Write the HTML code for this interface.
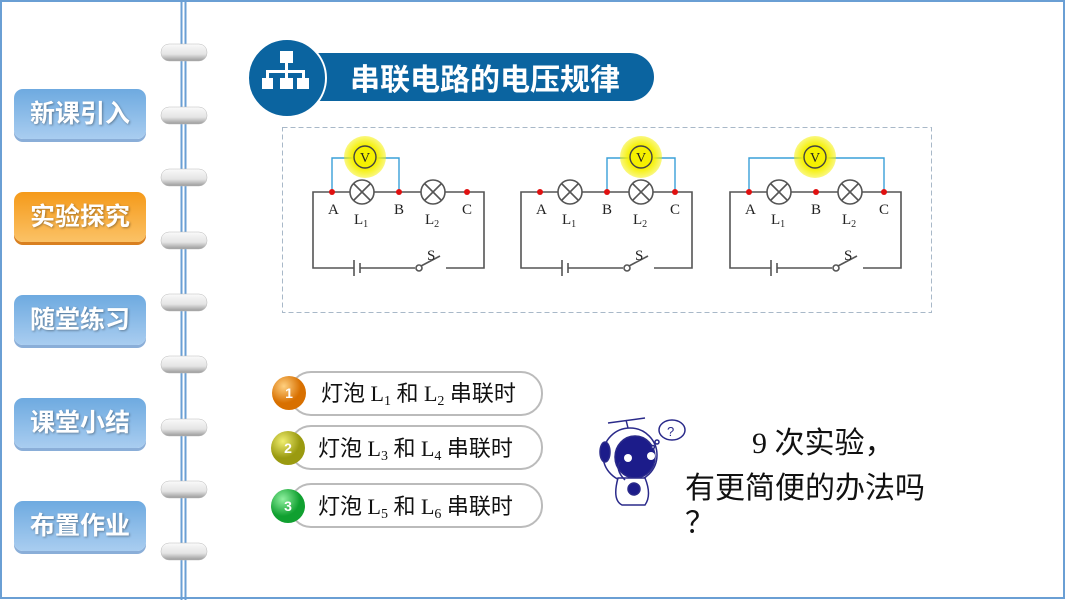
<!DOCTYPE html>
<html><head><meta charset="utf-8">
<style>
body{margin:0;width:1066px;height:600px;overflow:hidden;background:#fff;font-family:"Liberation Sans","Noto Sans CJK SC",sans-serif;}
.nav{position:absolute;left:14px;width:132px;height:50px;border-radius:9px;color:#fff;font-size:25px;font-weight:bold;line-height:50px;text-align:center;text-shadow:1px 1px 2px rgba(0,0,0,.35);box-shadow:0 3px 0 rgba(60,120,190,.6);}
.b{background:linear-gradient(#6eaae0,#a9cdf0);}
.o{background:linear-gradient(#f59a1a,#fbc266);box-shadow:0 3px 0 #d98020;}
</style></head><body>
<svg width="1066" height="600" style="position:absolute;left:0;top:0" font-family="Liberation Serif,serif">
<defs>
<linearGradient id="ring" x1="0" y1="0" x2="0" y2="1"><stop offset="0" stop-color="#fafafa"/><stop offset="0.6" stop-color="#e4e4e4"/><stop offset="1" stop-color="#9a9a9a"/></linearGradient>
<radialGradient id="glow"><stop offset="0.55" stop-color="#f5f000"/><stop offset="1" stop-color="#f5f000" stop-opacity="0.5"/></radialGradient>
<radialGradient id="g1" cx="0.35" cy="0.3"><stop offset="0" stop-color="#ffd080"/><stop offset="1" stop-color="#d87000"/></radialGradient>
<radialGradient id="g2" cx="0.35" cy="0.3"><stop offset="0" stop-color="#f0ee70"/><stop offset="1" stop-color="#9a9a10"/></radialGradient>
<radialGradient id="g3" cx="0.35" cy="0.3"><stop offset="0" stop-color="#90f0a0"/><stop offset="1" stop-color="#10a030"/></radialGradient>
</defs>
<rect x="1" y="1" width="1063" height="597" fill="none" stroke="#6a9fd4" stroke-width="2"/>
<line x1="181.5" y1="0" x2="181.5" y2="600" stroke="#6a9fd4" stroke-width="2"/>
<line x1="185.5" y1="0" x2="185.5" y2="600" stroke="#6a9fd4" stroke-width="2"/>
<g>
<rect x="161" y="44" width="46" height="17" rx="8" fill="url(#ring)" stroke="#bbb" stroke-width="0.5"/>
<rect x="161" y="107" width="46" height="17" rx="8" fill="url(#ring)" stroke="#bbb" stroke-width="0.5"/>
<rect x="161" y="169" width="46" height="17" rx="8" fill="url(#ring)" stroke="#bbb" stroke-width="0.5"/>
<rect x="161" y="232" width="46" height="17" rx="8" fill="url(#ring)" stroke="#bbb" stroke-width="0.5"/>
<rect x="161" y="294" width="46" height="17" rx="8" fill="url(#ring)" stroke="#bbb" stroke-width="0.5"/>
<rect x="161" y="356" width="46" height="17" rx="8" fill="url(#ring)" stroke="#bbb" stroke-width="0.5"/>
<rect x="161" y="419" width="46" height="17" rx="8" fill="url(#ring)" stroke="#bbb" stroke-width="0.5"/>
<rect x="161" y="481" width="46" height="17" rx="8" fill="url(#ring)" stroke="#bbb" stroke-width="0.5"/>
<rect x="161" y="543" width="46" height="17" rx="8" fill="url(#ring)" stroke="#bbb" stroke-width="0.5"/>
</g>
<path d="M287 53 H630 A24 24 0 0 1 630 101 H287 Z" fill="#0b64a0"/>
<circle cx="287" cy="78" r="39" fill="#0b64a0" stroke="#fff" stroke-width="2"/>
<g fill="#fff"><rect x="280" y="51" width="13" height="12"/><rect x="285" y="63" width="3" height="8"/><rect x="266" y="70" width="38" height="3"/><rect x="266" y="70" width="3" height="8"/><rect x="285" y="70" width="3" height="8"/><rect x="302" y="70" width="3" height="8"/><rect x="262" y="78" width="11" height="11"/><rect x="280" y="78" width="13" height="11"/><rect x="297" y="78" width="12" height="11"/></g>
<text x="350" y="90" font-family="Liberation Sans,Noto Sans CJK SC,sans-serif" font-size="30" font-weight="bold" fill="#fff">串联电路的电压规律</text>
<rect x="282.5" y="127.5" width="649" height="185" fill="none" stroke="#a8b8c8" stroke-dasharray="5,3"/>
<g id="c1" stroke="#555" stroke-width="1.6" fill="none">
<polyline points="332,192 313,192 313,268 354,268"/>
<line x1="354" y1="260" x2="354" y2="276"/><line x1="360" y1="263" x2="360" y2="273"/>
<line x1="360" y1="268" x2="415" y2="268"/>
<circle cx="419" cy="268" r="3"/><line x1="421" y1="266" x2="440" y2="256"/>
<polyline points="446,268 484,268 484,192 467,192"/>
<line x1="332" y1="192" x2="350" y2="192"/><line x1="374" y1="192" x2="421" y2="192"/><line x1="445" y1="192" x2="467" y2="192"/>
<circle cx="362" cy="192" r="12"/><line x1="354" y1="184" x2="370" y2="200"/><line x1="370" y1="184" x2="354" y2="200"/>
<circle cx="433" cy="192" r="12"/><line x1="425" y1="184" x2="441" y2="200"/><line x1="441" y1="184" x2="425" y2="200"/>
</g>
<use href="#c1" transform="translate(208,0)"/>
<use href="#c1" transform="translate(417,0)"/>
<g stroke="#3aa0d8" stroke-width="1.4" fill="none">
<polyline points="332,192 332,158 399,158 399,192"/>
<polyline points="607,192 607,158 675,158 675,192"/>
<polyline points="749,192 749,158 884,158 884,192"/>
</g>
<g fill="url(#glow)"><circle cx="365" cy="157" r="21"/><circle cx="641" cy="157" r="21"/><circle cx="815" cy="157" r="21"/></g>
<g fill="none" stroke="#444" stroke-width="1.4"><circle cx="365" cy="157" r="11"/><circle cx="641" cy="157" r="11"/><circle cx="815" cy="157" r="11"/></g>
<g font-size="14" fill="#222" text-anchor="middle"><text x="365" y="162">V</text><text x="641" y="162">V</text><text x="815" y="162">V</text></g>
<g fill="#e01010"><circle cx="332" cy="192" r="3"/><circle cx="399" cy="192" r="3"/><circle cx="467" cy="192" r="3"/>
<circle cx="540" cy="192" r="3"/><circle cx="607" cy="192" r="3"/><circle cx="675" cy="192" r="3"/>
<circle cx="749" cy="192" r="3"/><circle cx="816" cy="192" r="3"/><circle cx="884" cy="192" r="3"/></g>
<g id="lab" font-size="15" fill="#222">
<text x="328" y="214">A</text><text x="394" y="214">B</text><text x="462" y="214">C</text>
<text x="354" y="224">L<tspan font-size="10" dy="3">1</tspan></text>
<text x="425" y="224">L<tspan font-size="10" dy="3">2</tspan></text>
<text x="427" y="260">S</text>
</g>
<use href="#lab" transform="translate(208,0)"/>
<use href="#lab" transform="translate(417,0)"/>
<g fill="#fff" stroke="#bbb" stroke-width="2">
<rect x="290" y="372" width="252" height="43" rx="21"/>
<rect x="290" y="426" width="252" height="43" rx="21"/>
<rect x="290" y="484" width="252" height="43" rx="21"/>
</g>
<circle cx="289" cy="393" r="17" fill="url(#g1)"/>
<circle cx="288" cy="448" r="17" fill="url(#g2)"/>
<circle cx="288" cy="506" r="17" fill="url(#g3)"/>
<g font-family="Liberation Sans,sans-serif" font-size="14" font-weight="bold" fill="#fff" text-anchor="middle">
<text x="289" y="398">1</text><text x="288" y="453">2</text><text x="288" y="511">3</text></g>
<g font-family="Liberation Serif,Noto Sans CJK SC,serif" font-size="22" fill="#111">
<text x="321" y="401">灯泡 L<tspan font-size="14" dy="4">1</tspan><tspan dy="-4"> 和 L</tspan><tspan font-size="14" dy="4">2</tspan><tspan dy="-4"> 串联时</tspan></text>
<text x="318" y="456">灯泡 L<tspan font-size="14" dy="4">3</tspan><tspan dy="-4"> 和 L</tspan><tspan font-size="14" dy="4">4</tspan><tspan dy="-4"> 串联时</tspan></text>
<text x="318" y="514">灯泡 L<tspan font-size="14" dy="4">5</tspan><tspan dy="-4"> 和 L</tspan><tspan font-size="14" dy="4">6</tspan><tspan dy="-4"> 串联时</tspan></text>
</g>
<g stroke="#2a2a8a" stroke-width="1.5">
<line x1="608" y1="423" x2="645" y2="418"/><line x1="626" y1="420" x2="628" y2="428"/>
<ellipse cx="630" cy="455" rx="27" ry="27" fill="#fff"/>
<ellipse cx="635" cy="457" rx="20" ry="21" fill="#1c1c8a"/>
<ellipse cx="605" cy="452" rx="5" ry="10" fill="#1c1c8a"/>
<path d="M618 478 Q612 500 622 505 L645 505 Q652 495 645 478 Z" fill="#fff"/>
<circle cx="634" cy="489" r="6" fill="#1c1c8a"/>
<path d="M625 480 Q615 470 620 462" fill="none"/>
<ellipse cx="672" cy="430" rx="13" ry="10" fill="#fff"/>
<circle cx="657" cy="442" r="2" fill="#fff"/><circle cx="653" cy="447" r="1.5" fill="#fff"/>
</g>
<circle cx="628" cy="458" r="4" fill="#fff"/><circle cx="651" cy="456" r="4" fill="#fff"/>
<text x="667" y="436" font-size="13" fill="#2a2a8a" font-family="Liberation Sans,sans-serif">?</text>
<g font-family="Liberation Serif,Noto Sans CJK SC,serif" font-size="30" fill="#111">
<text x="752" y="453">9 次实验，</text>
<text x="685" y="498">有更简便的办法吗</text>
<text x="685" y="533">？</text>
</g>
</svg>
<div class="nav b" style="top:89px">新课引入</div>
<div class="nav o" style="top:192px">实验探究</div>
<div class="nav b" style="top:295px">随堂练习</div>
<div class="nav b" style="top:398px">课堂小结</div>
<div class="nav b" style="top:501px">布置作业</div>
</body></html>
